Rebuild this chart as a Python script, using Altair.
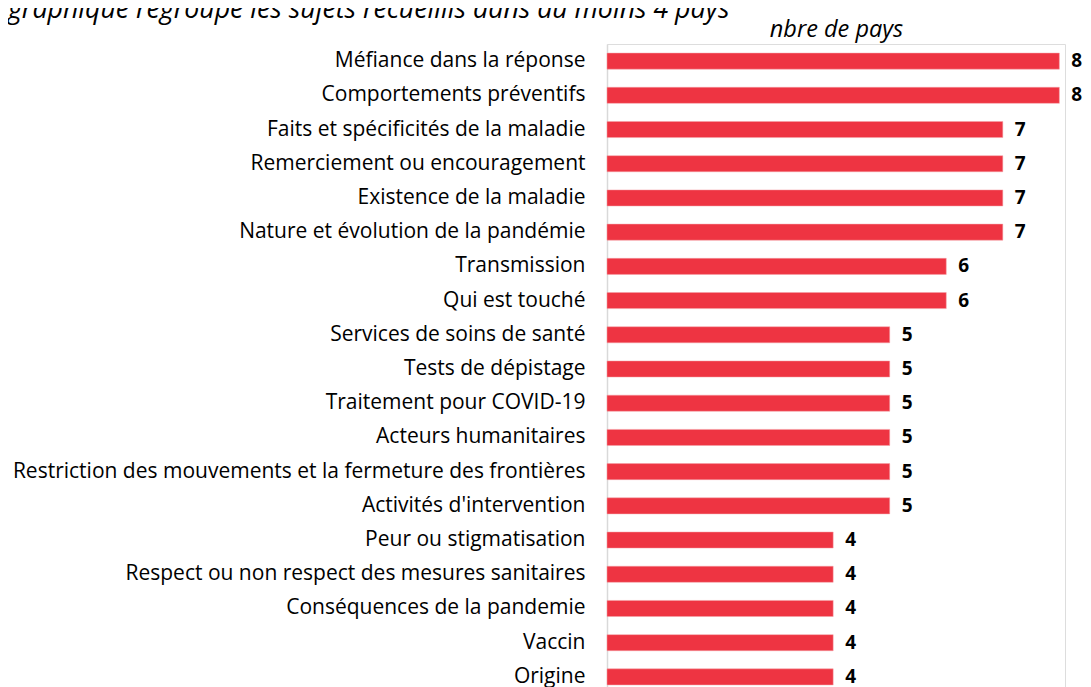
import altair as alt
import pandas as pd

categories = [
    "Méfiance dans la réponse",
    "Comportements préventifs",
    "Faits et spécificités de la maladie",
    "Remerciement ou encouragement",
    "Existence de la maladie",
    "Nature et évolution de la pandémie",
    "Transmission",
    "Qui est touché",
    "Services de soins de santé",
    "Tests de dépistage",
    "Traitement pour COVID-19",
    "Acteurs humanitaires",
    "Restriction des mouvements et la fermeture des frontières",
    "Activités d'intervention",
    "Peur ou stigmatisation",
    "Respect ou non respect des mesures sanitaires",
    "Conséquences de la pandemie",
    "Vaccin",
    "Origine",
]
values = [8, 8, 7, 7, 7, 7, 6, 6, 5, 5, 5, 5, 5, 5, 4, 4, 4, 4, 4]
title_text = ["graphique regroupe les sujets recueillis dans au moins 4 pays"]

df = pd.DataFrame({"sujet": categories, "pays": values})
df_title = pd.DataFrame({"t": title_text})

FONT = "Open Sans"

y_enc = alt.Y(
    "sujet:N",
    sort=categories,
    title=None,
    scale=alt.Scale(paddingInner=0.53, paddingOuter=0.265),
    axis=alt.Axis(
        domain=True,
        domainColor="#d9d9d9",
        domainWidth=1.5,
        ticks=False,
        labelFontSize=21,
        labelFont=FONT,
        labelColor="#000000",
        labelPadding=22,
        labelLimit=700,
        grid=False,
    ),
)

x_enc = alt.X(
    "pays:Q",
    scale=alt.Scale(domain=[0, 8.1], nice=False),
    axis=alt.Axis(
        orient="top",
        title="nbre de pays",
        titleFont=FONT,
        titleFontSize=23.5,
        titleFontStyle="italic",
        titleFontWeight="normal",
        titleColor="#000000",
        titlePadding=3,
        labels=False,
        ticks=False,
        domain=False,
        grid=False,
    ),
)

bars = alt.Chart(df).mark_bar(color="#EE3442", stroke="#F4A0A6", strokeWidth=0.5).encode(
    x=x_enc, y=y_enc
)

texts = alt.Chart(df).mark_text(
    align="left", baseline="middle", dx=12, fontSize=19, fontWeight="bold", font=FONT, color="#000000"
).encode(
    x=alt.X("pays:Q", scale=alt.Scale(domain=[0, 8.1], nice=False)),
    y=alt.Y("sujet:N", sort=categories),
    text="pays:Q",
)

title = alt.Chart(df_title).mark_text(
    align="left", baseline="alphabetic", fontSize=26.7, fontStyle="italic", font=FONT, color="#000000"
).encode(
    x=alt.value(-599),
    y=alt.value(-26),
    text="t:N",
)

chart = (
    alt.layer(bars, texts, title)
    .properties(
        width=458,
        height=650,
        autosize=alt.AutoSizeParams(type="none"),
        padding={"left": 599, "top": 36, "right": 18, "bottom": 0},
    )
    .configure_view(stroke=None)
    .configure(background="white")
)

chart.save("out.html", embed_options={"renderer": "svg", "actions": False})
